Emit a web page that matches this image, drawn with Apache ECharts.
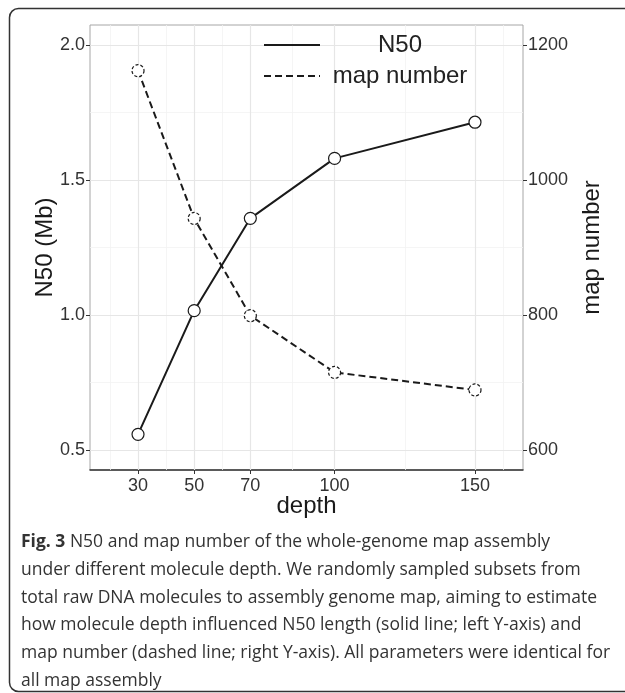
<!DOCTYPE html>
<html>
<head>
<meta charset="utf-8">
<script src="https://cdn.jsdelivr.net/npm/echarts@6/dist/echarts.min.js"></script>
<style>
html,body{margin:0;padding:0;background:#fff;}
#chart{width:625px;height:693px;}
</style>
</head>
<body>
<div id="chart"></div>
<script>
// ---- data ----
const depth = [30, 50, 70, 100, 150];
const n50 = [0.558, 1.016, 1.358, 1.580, 1.714];
const mapNumber = [1162, 943, 799, 715, 689];
const xTicks = [30, 50, 70, 100, 150];
const xMinorGrid = [20, 40, 60, 85, 125, 160];
const yLeftTicks = [0.5, 1.0, 1.5, 2.0];
const yLeftMinorGrid = [0.75, 1.25, 1.75];
const yRightTicks = [600, 800, 1000, 1200];
const seriesNames = ['N50', 'map number'];
const captionLines = [
  '{b|Fig. 3} N50 and map number of the whole-genome map assembly',
  'under different molecule depth. We randomly sampled subsets from',
  'total raw DNA molecules to assembly genome map, aiming to estimate',
  'how molecule depth influenced N50 length (solid line; left Y-axis) and',
  'map number (dashed line; right Y-axis). All parameters were identical for',
  'all map assembly'
];

const FONT = '"Liberation Sans", Helvetica, Arial, sans-serif';
const CAP_FONT = '"Open Sans", "Noto Sans", sans-serif';
const chart = echarts.init(document.getElementById('chart'), null, {renderer: 'canvas'});

const gridLeft = 90, gridTop = 25, gridRight = 523, gridBottom = 470;

const gridLines = [];
xMinorGrid.forEach(v => gridLines.push({xAxis: v, lineStyle: {color: '#f3f3f3', width: 0.8, type: 'solid'}}));
yLeftMinorGrid.forEach(v => gridLines.push({yAxis: v, lineStyle: {color: '#f3f3f3', width: 0.8, type: 'solid'}}));
xTicks.forEach(v => gridLines.push({xAxis: v, lineStyle: {color: '#e6e6e6', width: 1.2, type: 'solid'}}));
yLeftTicks.forEach(v => gridLines.push({yAxis: v, lineStyle: {color: '#e6e6e6', width: 1.2, type: 'solid'}}));

const axisLabelStyle = {fontFamily: FONT, fontSize: 18, color: '#333'};
const dash = [7, 4];

const legendGraphics = [];
const legendRows = [45, 76];
seriesNames.forEach((name, i) => {
  legendGraphics.push({
    type: 'line', z: 100,
    shape: {x1: 264, y1: legendRows[i], x2: 320, y2: legendRows[i]},
    style: {stroke: '#1a1a1a', lineWidth: 2, lineDash: i === 1 ? dash : null}
  });
  legendGraphics.push({
    type: 'text', z: 100, x: 400, y: legendRows[i],
    style: {text: name, font: '24px ' + FONT, fill: '#222', align: 'center', verticalAlign: 'middle'}
  });
});

const captionGraphics = captionLines.map((t, i) => ({
  type: 'text', x: 21, y: 551 + 27.8 * i,
  style: {
    text: t, fontFamily: CAP_FONT, fontSize: 17.5, fill: '#333',
    verticalAlign: 'bottom', align: 'left',
    rich: {b: {fontFamily: CAP_FONT, fontSize: 17.5, fontWeight: 'bold', fill: '#333', verticalAlign: 'bottom'}}
  }
}));

const option = {
  animation: false,
  backgroundColor: '#fff',
  grid: {left: gridLeft, top: gridTop, right: 625 - gridRight, bottom: 693 - gridBottom,
         show: true, borderColor: '#a6a6a6', borderWidth: 1, backgroundColor: 'transparent'},
  xAxis: {
    type: 'value', min: 12.9, max: 167.1,
    axisLine: {show: true, onZero: false, lineStyle: {color: '#333', width: 1.5}},
    axisTick: {show: true, length: 4, customValues: xTicks, lineStyle: {color: '#333', width: 1}},
    axisLabel: Object.assign({customValues: xTicks, margin: 7, formatter: v => String(v)}, axisLabelStyle),
    splitLine: {show: false},
    minorTick: {show: false},
    name: 'depth', nameLocation: 'middle', nameGap: 24, nameMoveOverlap: false,
    nameTextStyle: {fontFamily: FONT, fontSize: 24, color: '#1a1a1a'}
  },
  yAxis: [{
    type: 'value', min: 0.426, max: 2.074, position: 'left',
    axisLine: {show: false},
    axisTick: {show: true, length: 4, customValues: yLeftTicks, lineStyle: {color: '#333', width: 1}},
    axisLabel: Object.assign({customValues: yLeftTicks, margin: 5, formatter: v => v.toFixed(1)}, axisLabelStyle),
    splitLine: {show: false},
    name: 'N50 (Mb)', nameLocation: 'middle', nameGap: 33, nameRotate: 90, nameMoveOverlap: false,
    nameTextStyle: {fontFamily: FONT, fontSize: 24, color: '#1a1a1a'}
  }, {
    type: 'value', min: 570.4, max: 1229.6, position: 'right',
    axisLine: {show: false},
    axisTick: {show: true, length: 4, customValues: yRightTicks, lineStyle: {color: '#333', width: 1}},
    axisLabel: Object.assign({customValues: yRightTicks, margin: 5, formatter: v => String(v)}, axisLabelStyle),
    splitLine: {show: false},
    name: 'map number', nameLocation: 'middle', nameGap: 57, nameRotate: 90, nameMoveOverlap: false,
    nameTextStyle: {fontFamily: FONT, fontSize: 24, color: '#1a1a1a'}
  }],
  series: [{
    name: seriesNames[0], type: 'line', yAxisIndex: 0, z: 3,
    data: depth.map((d, i) => [d, n50[i]]),
    symbol: 'circle', symbolSize: 12,
    lineStyle: {color: '#1a1a1a', width: 2},
    itemStyle: {color: '#fff', borderColor: '#1a1a1a', borderWidth: 1.2},
    markLine: {silent: true, symbol: 'none', label: {show: false}, z: 1, animation: false, data: gridLines}
  }, {
    name: seriesNames[1], type: 'line', yAxisIndex: 1, z: 3,
    data: depth.map((d, i) => [d, mapNumber[i]]),
    symbol: 'circle', symbolSize: 12,
    lineStyle: {color: '#1a1a1a', width: 2, type: dash},
    itemStyle: {color: '#fff', borderColor: '#1a1a1a', borderWidth: 1.2, borderType: [3, 2]}
  }],
  graphic: [
    {type: 'rect', shape: {x: 9.5, y: 8.5, width: 700, height: 683, r: 9},
     style: {fill: 'none', stroke: '#333', lineWidth: 1.5}, z: 0}
  ].concat(legendGraphics, captionGraphics)
};
chart.setOption(option);
</script>
</body>
</html>
